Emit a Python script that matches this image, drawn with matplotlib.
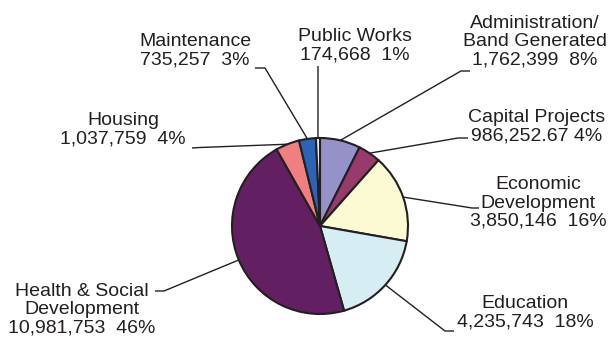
import numpy as np
import matplotlib
matplotlib.use("Agg")
import matplotlib.pyplot as plt

#########################
# data
#########################
categories = ["Administration/\nBand Generated", "Capital Projects", "Economic\nDevelopment",
              "Education", "Health & Social\nDevelopment", "Housing", "Maintenance", "Public Works"]
values = [1762399, 986252.67, 3850146, 4235743, 10981753, 1037759, 735257, 174668]
value_labels = ["1,762,399  8%", "986,252.67 4%", "3,850,146  16%", "4,235,743  18%",
                "10,981,753  46%", "1,037,759  4%", "735,257  3%", "174,668  1%"]
colors = ["#9592c9", "#983a6c", "#fcfad2", "#d5edf3", "#621f61", "#f08080", "#2b63b5", "#f4f4fa"]

#########################
# layout (pixel coords, y from top)
#########################
W, H = 611, 341
CENTER = (320, 226)
RADIUS = 88

# label block centre, then elbow points of the leader (from pie outwards)
label_pos = [(535, 42), (537, 127), (538, 203), (525, 313),
             (82, 310), (123, 130), (195, 51), (355, 46)]
leader_pts = [[(461, 71), (470, 71)],
              [(458, 138), (468, 138)],
              [(472, 208), (479, 208)],
              [(445, 331), (454, 331)],
              [(164, 291), (155, 291)],
              [(200, 147.5), (192, 148)],
              [(265, 68), (255, 68)],
              [(318, 66)]]

TEXT_COLOR = "#231f20"
plt.rcParams['font.family'] = ['Liberation Sans', 'DejaVu Sans']


def px(x, y):
    return x, H - y


fig = plt.figure(figsize=(W / 100, H / 100), dpi=100)
ax = fig.add_axes([0, 0, 1, 1])

cx, cy = px(*CENTER)
wedges, _ = ax.pie(values, colors=colors, startangle=90, counterclock=False,
                   center=(cx, cy), radius=RADIUS,
                   wedgeprops=dict(edgecolor=TEXT_COLOR, linewidth=1.5))

for w, name, vl, (lx, ly), pts in zip(wedges, categories, value_labels, label_pos, leader_pts):
    mid = np.deg2rad((w.theta1 + w.theta2) / 2)
    ex, ey = cx + RADIUS * np.cos(mid), cy + RADIUS * np.sin(mid)
    xs = [ex] + [p[0] for p in pts]
    ys = [ey] + [H - p[1] for p in pts]
    ax.plot(xs, ys, color=TEXT_COLOR, lw=1.0, solid_capstyle='butt')
    tx, ty = px(lx, ly)
    ax.text(tx, ty, name + "\n" + vl, ha='center', va='center', multialignment='center',
            fontsize=14, color=TEXT_COLOR, linespacing=1.08)

ax.set_xlim(0, W)
ax.set_ylim(0, H)
ax.set_aspect('equal')
ax.axis('off')

fig.savefig("out.png", dpi=100)
